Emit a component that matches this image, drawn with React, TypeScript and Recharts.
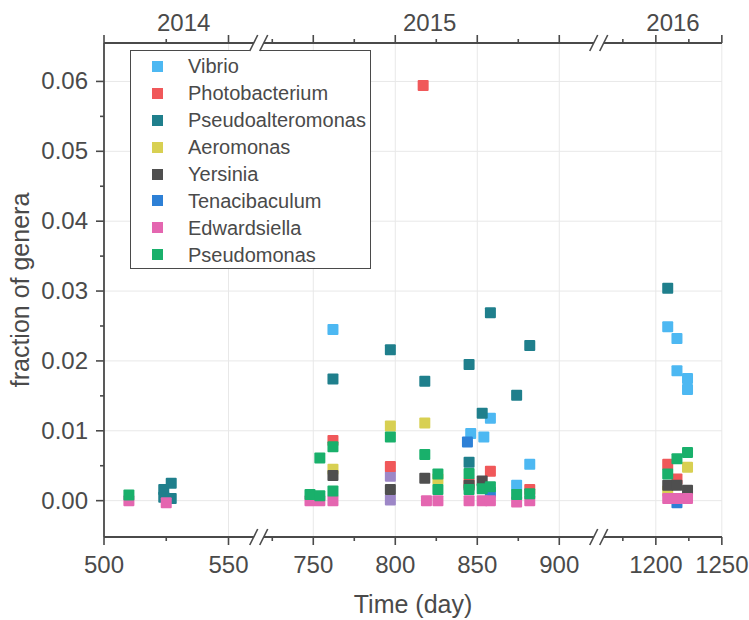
import { ScatterChart, Scatter, XAxis, YAxis, CartesianGrid, Legend, Label } from 'recharts'

const INK = '#4a4a4a'
const GRID = '#e8e8e8'
const FONT = '"Liberation Sans", Arial, sans-serif'

const W = 749
const H = 620
const MARGIN = { top: 13, right: 27, bottom: 43, left: 14 }
const Y_AXIS_W = 90
const TOP_AXIS_H = 30
const BOTTOM_AXIS_H = 40
const PLOT_LEFT = MARGIN.left + Y_AXIS_W
const PLOT_TOP = MARGIN.top + TOP_AXIS_H
const PLOT_BOTTOM = H - MARGIN.bottom - BOTTOM_AXIS_H

// broken time axis: each piece keeps a day range, where it starts on the axis and its scale
const SEGMENTS = [
  { from: 500, to: 558, start: 0, perDay: 2.49 },
  { from: 723, to: 919, start: 165, perDay: 1.64 },
  { from: 1163, to: 1250, start: 503, perDay: 1.32 },
]
const AXIS_SPAN = W - MARGIN.right - PLOT_LEFT

const toAxis = (day: number) => {
  const s = SEGMENTS.find(g => day <= g.to) ?? SEGMENTS[SEGMENTS.length - 1]
  return s.start + (day - s.from) * s.perDay
}
const fromAxis = (u: number) => {
  const s = [...SEGMENTS].reverse().find(g => u >= g.start - 0.001) ?? SEGMENTS[0]
  return s.from + (u - s.start) / s.perDay
}

const X_MAJOR = [500, 550, 750, 800, 850, 900, 1200, 1250]
const X_MINOR = [525, 725, 775, 825, 875, 1175, 1225]
const YEARS = ['2014', '2015', '2016']
const YEAR_DAYS = [532, 821, 1213]
const Y_MAJOR = [0, 0.01, 0.02, 0.03, 0.04, 0.05, 0.06]
const Y_MINOR = [0.005, 0.015, 0.025, 0.035, 0.045, 0.055]
const Y_DOMAIN = [-0.0052, 0.0655]

// [day, fraction of genera]
const VIBRIO = [
  [762, 0.0245], [846, 0.0096], [854, 0.0091], [858, 0.0118], [874, 0.0022], [882, 0.0052],
  [1209, 0.0249], [1216, 0.0232], [1216, 0.0186], [1224, 0.0175], [1224, 0.0159],
]
const PHOTOBACTERIUM = [
  [762, 0.0086], [797, 0.0049], [817, 0.0594], [845, 0.0025], [858, 0.0042], [882, 0.0016],
  [1209, 0.0052], [1216, 0.0031],
]
const PSEUDOALTEROMONAS = [
  [524, 0.0016], [524, 0.0005], [527, 0.0025], [527, 0.0003],
  [762, 0.0174], [797, 0.0216], [818, 0.0171], [845, 0.0195], [845, 0.0055], [853, 0.0125],
  [858, 0.0269], [874, 0.0151], [882, 0.0222], [1209, 0.0304],
]
const AEROMONAS = [
  [762, 0.0045], [797, 0.0107], [818, 0.0111], [826, 0.0031], [1209, 0.0014], [1224, 0.0048],
]
const YERSINIA = [
  [762, 0.0036], [797, 0.0016], [818, 0.0032], [845, 0.0022], [853, 0.0028],
  [1209, 0.0022], [1216, 0.0022], [1224, 0.0015],
]
const TENACIBACULUM = [[844, 0.0084], [858, 0.0012], [1216, -0.0003]]
const EDWARDSIELLA = [
  [510, 0], [525, -0.0003], [748, 0], [754, 0], [762, 0], [819, 0], [826, 0], [845, 0],
  [853, 0], [858, 0], [874, -0.0002], [882, 0], [1209, 0.0003], [1216, 0.0003], [1224, 0.0003],
]
const PSEUDOMONAS = [
  [510, 0.0008], [748, 0.0009], [754, 0.0061], [754, 0.0007], [762, 0.0077], [762, 0.0014],
  [797, 0.0091], [818, 0.0066], [826, 0.0038], [826, 0.0016], [845, 0.0039], [845, 0.0016],
  [853, 0.0017], [858, 0.002], [874, 0.0009], [882, 0.001],
  [1209, 0.0038], [1216, 0.006], [1224, 0.0069],
]
// genus plotted without a legend entry
const UNLISTED = [[797, 0.0035], [797, 0.0001]]

const SERIES = [
  { name: 'Vibrio', color: '#4db8f2', points: VIBRIO },
  { name: 'Photobacterium', color: '#f0585a', points: PHOTOBACTERIUM },
  { name: 'Pseudoalteromonas', color: '#1f7f8c', points: PSEUDOALTEROMONAS },
  { name: 'Aeromonas', color: '#d8d052', points: AEROMONAS },
  { name: 'Yersinia', color: '#4f4f4f', points: YERSINIA },
  { name: 'Tenacibaculum', color: '#2d80d6', points: TENACIBACULUM },
  { name: 'Edwardsiella', color: '#e466b0', points: EDWARDSIELLA },
  { name: 'Pseudomonas', color: '#19b06b', points: PSEUDOMONAS },
]

const toRows = (pts: number[][]) => pts.map(([d, v]) => ({ x: toAxis(d), y: v }))

const Square = (color: string) => (p: any) => (
  <rect x={p.cx - 5.5} y={p.cy - 5.5} width={11} height={11} rx={1} fill={color} />
)

const textStyle = { fontFamily: FONT, fill: INK }

function BottomTick({ x, y, payload }: any) {
  const day = Math.round(fromAxis(payload.value))
  const major = X_MAJOR.includes(day)
  return (
    <g>
      <line x1={x} x2={x} y1={y} y2={y + (major ? 8 : 4)} stroke={INK} strokeWidth={1.6} />
      {major && <text x={x} y={y + 36} textAnchor="middle" fontSize={24} {...textStyle}>{day}</text>}
    </g>
  )
}

function TopTick({ x, y, payload }: any) {
  const day = Math.round(fromAxis(payload.value))
  const yi = YEAR_DAYS.indexOf(day)
  if (yi >= 0) {
    return <text x={x} y={y - 12} textAnchor="middle" fontSize={24} {...textStyle}>{YEARS[yi]}</text>
  }
  const major = X_MAJOR.includes(day)
  return <line x1={x} x2={x} y1={y} y2={y - (major ? 8 : 4)} stroke={INK} strokeWidth={1.6} />
}

function LeftTick({ x, y, payload }: any) {
  const major = Y_MAJOR.some(v => Math.abs(v - payload.value) < 1e-9)
  return (
    <g>
      <line x1={x - (major ? 8 : 4)} x2={x} y1={y} y2={y} stroke={INK} strokeWidth={1.6} />
      {major && (
        <text x={x - 16} y={y + 8} textAnchor="end" fontSize={24} {...textStyle}>
          {payload.value.toFixed(2)}
        </text>
      )}
    </g>
  )
}

function LegendBox() {
  return (
    <div style={{
      border: `1.5px solid ${INK}`, background: '#fff', width: 241, height: 219,
      boxSizing: 'border-box', paddingTop: 2,
    }}>
      {SERIES.map(s => (
        <div key={s.name} style={{ display: 'flex', alignItems: 'center', height: 26.9 }}>
          <span style={{ width: 11, height: 11, background: s.color, marginLeft: 21, marginRight: 25, flexShrink: 0 }} />
          <span style={{ fontFamily: FONT, fontSize: 20, color: INK, lineHeight: 1 }}>{s.name}</span>
        </div>
      ))}
    </div>
  )
}

function BreakMark({ cx, cy }: { cx: number; cy: number }) {
  return (
    <g>
      <polygon points={`${cx - 9},${cy + 8} ${cx - 1},${cy - 8} ${cx + 9},${cy - 8} ${cx + 1},${cy + 8}`} fill="#fff" />
      <line x1={cx - 9} y1={cy + 8} x2={cx - 1} y2={cy - 8} stroke={INK} strokeWidth={1.6} />
      <line x1={cx + 1} y1={cy + 8} x2={cx + 9} y2={cy - 8} stroke={INK} strokeWidth={1.6} />
    </g>
  )
}

const gapCenters = SEGMENTS.slice(1).map((s, i) => {
  const prev = SEGMENTS[i]
  const prevEnd = prev.start + (prev.to - prev.from) * prev.perDay
  return PLOT_LEFT + (prevEnd + s.start) / 2
})

const xTicks = [...X_MAJOR, ...X_MINOR].sort((a, b) => a - b).map(toAxis)
const topTicks = [...xTicks, ...YEAR_DAYS.map(toAxis)].sort((a, b) => a - b)
const yTicks = [...Y_MAJOR, ...Y_MINOR].sort((a, b) => a - b)

// grid only at the labelled ticks
const gridX = ({ offset }: any) => X_MAJOR.map(d => offset.left + toAxis(d) * offset.width / AXIS_SPAN)
const gridY = ({ offset }: any) =>
  Y_MAJOR.map(v => offset.top + (Y_DOMAIN[1] - v) / (Y_DOMAIN[1] - Y_DOMAIN[0]) * offset.height)

export default function App() {
  return (
    <div style={{ position: 'absolute', left: 0, top: 0, width: W, height: H, background: '#fff' }}>
      <ScatterChart width={W} height={H} margin={MARGIN}>
        <CartesianGrid stroke={GRID} verticalCoordinatesGenerator={gridX} horizontalCoordinatesGenerator={gridY} />
        <XAxis
          dataKey="x" type="number" domain={[0, AXIS_SPAN]} allowDataOverflow
          ticks={xTicks} interval={0} height={BOTTOM_AXIS_H}
          tickSize={0} tickMargin={0} tickLine={false} tick={<BottomTick />}
          axisLine={{ stroke: INK, strokeWidth: 1.8 }}
        >
          <Label value="Time (day)" position="bottom" offset={18}
            style={{ fontFamily: FONT, fontSize: 25, fill: INK }} />
        </XAxis>
        <XAxis
          xAxisId="top" dataKey="x" orientation="top" type="number" domain={[0, AXIS_SPAN]} allowDataOverflow
          ticks={topTicks} interval={0} height={TOP_AXIS_H}
          tickSize={0} tickMargin={0} tickLine={false} tick={<TopTick />}
          axisLine={{ stroke: INK, strokeWidth: 1.8 }}
        />
        <YAxis
          dataKey="y" type="number" domain={Y_DOMAIN} allowDataOverflow
          ticks={yTicks} interval={0} width={Y_AXIS_W}
          tickSize={0} tickMargin={0} tickLine={false} tick={<LeftTick />}
          axisLine={{ stroke: INK, strokeWidth: 1.8 }}
        >
          <Label value="fraction of genera" angle={-90} position="insideLeft" offset={6}
            style={{ fontFamily: FONT, fontSize: 25, fill: INK, textAnchor: 'middle' }} />
        </YAxis>
        <Legend
          layout="vertical" align="center" verticalAlign="middle"
          wrapperStyle={{ left: 130, top: 50, width: 241 }}
          content={() => <LegendBox />}
        />
        {/* year positions on the top axis; nothing drawn, it only gives that axis its ticks */}
        <Scatter xAxisId="top" data={YEAR_DAYS.map(d => ({ x: toAxis(d), y: 0 }))}
          shape={() => <g />} legendType="none" isAnimationActive={false} />
        <Scatter name="unlisted" data={toRows(UNLISTED)} fill="#9d87c7" legendType="none"
          shape={Square('#9d87c7')} isAnimationActive={false} />
        {SERIES.map(s => (
          <Scatter key={s.name} name={s.name} data={toRows(s.points)} fill={s.color}
            shape={Square(s.color)} isAnimationActive={false} />
        ))}
      </ScatterChart>
      <svg width={W} height={H} style={{ position: 'absolute', left: 0, top: 0, pointerEvents: 'none' }}>
        {gapCenters.map(cx => (
          <g key={cx}>
            <BreakMark cx={cx} cy={PLOT_TOP} />
            <BreakMark cx={cx} cy={PLOT_BOTTOM} />
          </g>
        ))}
      </svg>
    </div>
  )
}
